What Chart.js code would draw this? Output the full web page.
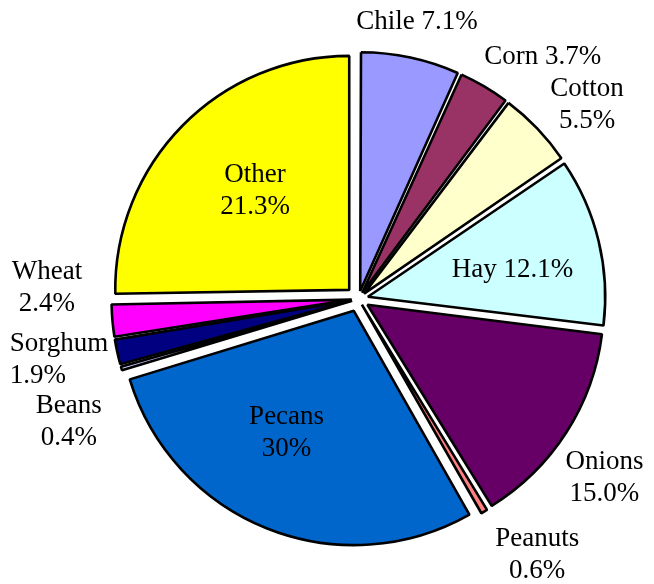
<!DOCTYPE html>
<html>
<head>
<meta charset="utf-8">
<script src="https://cdn.jsdelivr.net/npm/chart.js@4"></script>
<style>
  html, body { margin: 0; padding: 0; background: #fff; }
  #wrap { width: 654px; height: 584px; }
</style>
</head>
<body>
<div id="wrap"><canvas id="chart" width="654" height="584"></canvas></div>
<script>
// crops clockwise from the top
const crops = ['Chile', 'Corn', 'Cotton', 'Hay', 'Onions', 'Peanuts', 'Pecans', 'Beans', 'Sorghum', 'Wheat', 'Other'];
// slice sizes as drawn (the Other slice is drawn bigger than its 21.3% label)
const values = [7.1, 3.7, 5.5, 12.1, 15.0, 0.6, 30, 0.4, 1.9, 2.4, 26.6];
const pctLabels = ['7.1%', '3.7%', '5.5%', '12.1%', '15.0%', '0.6%', '30%', '0.4%', '1.9%', '2.4%', '21.3%'];
const colors = ['#9999FF', '#993366', '#FFFFCC', '#CCFFFF', '#660066', '#FF8080', '#0066CC', '#CCCCFF', '#000080', '#FF00FF', '#FFFF00'];

// label placement: [radius factor, angle shift in degrees, two lines?, align]
const labelStyle = [
    [1.21, -0.2, false, 'center'],
    [1.30, 6.7, false, 'center'],
    [1.28, 3.4, true, 'center'],
    [0.67, 3, false, 'center'],
    [1.30, 3.3, true, 'center'],
    [1.335, -4.3, true, 'center'],
    [0.65, 6.5, true, 'center'],
    [1.344, -6.6, true, 'center'],
    [1.513, 2.5, true, 'left'],
    [1.332, 7, true, 'center'],
    [0.639, 1.7, true, 'center']
];

const explode = 13; // px each slice is pulled out

const labelPlugin = {
    id: 'sliceLabels',
    afterDatasetsDraw(chart) {
        const ctx = chart.ctx;
        const arcs = chart.getDatasetMeta(0).data;
        ctx.save();
        ctx.font = '27px "Liberation Serif", "Times New Roman", serif';
        ctx.fillStyle = '#000';
        ctx.textBaseline = 'middle';
        arcs.forEach((arc, i) => {
            const st = labelStyle[i];
            const mid = (arc.startAngle + arc.endAngle) / 2 + st[1] * Math.PI / 180;
            const r = arc.outerRadius * st[0];
            const x = arc.x + Math.cos(mid) * r;
            const y = arc.y + Math.sin(mid) * r;
            ctx.textAlign = st[3];
            if (st[2]) {
                ctx.fillText(crops[i], x, y - 16);
                ctx.fillText(pctLabels[i], x, y + 16);
            } else {
                ctx.fillText(crops[i] + ' ' + pctLabels[i], x, y);
            }
        });
        ctx.restore();
    }
};

const total = values.reduce((a, b) => a + b, 0);

const ctx = document.getElementById('chart').getContext('2d');
const myChart = new Chart(ctx, {
    type: 'pie',
    data: {
        labels: crops,
        datasets: [{
            data: values,
            backgroundColor: colors,
            borderColor: '#000',
            borderWidth: 2.6,
            borderJoinStyle: 'bevel',
            // chart.js pushes thin slices further, so even it out
            offset: (c) => {
                const circ = c.dataset.data[c.dataIndex] / total * Math.PI * 2;
                const fix = 1 - Math.sin(Math.min(Math.PI, circ));
                return explode * 4 / (1 + fix);
            },
            hoverOffset: 0
        }]
    },
    options: {
        responsive: false,
        animation: false,
        events: [],
        radius: 234,
        layout: { padding: { left: 63, right: 0, top: 14, bottom: 0 } },
        plugins: {
            legend: { display: false },
            tooltip: { enabled: false }
        }
    },
    plugins: [labelPlugin]
});
</script>
</body>
</html>
